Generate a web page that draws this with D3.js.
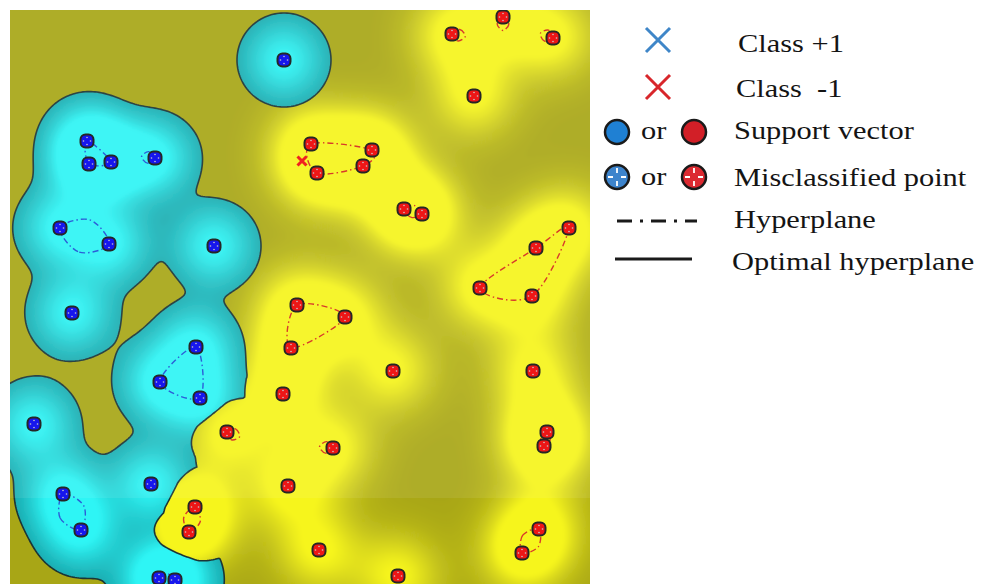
<!DOCTYPE html>
<html>
<head>
<meta charset="utf-8">
<script src="https://cdn.jsdelivr.net/npm/d3@7"></script>
<style>
body { margin: 0; background: #fff; }
text { font-family: "Liberation Serif", "Times New Roman", serif; fill: #141414; white-space: pre; }
</style>
</head>
<body>
<div id="chart"></div>
<script>
// Samples of class +1 (blue) in feature space
const classPos = [
  [27.4, 52.4], [7.7, 44.3], [7.9, 42.0], [10.1, 42.2], [14.5, 42.6],
  [5.0, 35.6], [9.9, 34.0], [20.4, 33.8], [6.2, 27.1], [18.6, 23.7],
  [15.0, 20.2], [19.0, 18.6], [2.4, 16.0], [14.1, 10.0], [5.3, 9.0],
  [7.1, 5.4], [14.9, 0.6], [16.5, 0.4]
];
// Samples of class -1 (red)
const classNeg = [
  [49.3, 56.7], [44.2, 55.0], [54.3, 54.6], [46.4, 48.8], [30.1, 44.0],
  [36.2, 43.4], [35.3, 41.8], [30.7, 41.1], [39.4, 37.5], [41.2, 37.0],
  [55.9, 35.6], [52.6, 33.6], [47.0, 29.6], [52.2, 28.8], [28.7, 27.9],
  [33.5, 26.7], [28.1, 23.6], [38.3, 21.3], [52.3, 21.3], [27.3, 19.0],
  [21.7, 15.2], [32.3, 13.6], [53.7, 15.2], [53.4, 13.8], [27.8, 9.8],
  [18.5, 7.7], [17.9, 5.2], [30.9, 3.4], [52.9, 5.5], [51.2, 3.1],
  [38.8, 0.8]
];
const crossNeg = [[29.2, 42.3]];

// hyperplane loops: groups of sample indices, and single-point stubs [index, direction deg]
const posPlanes = [[1, 2, 3], [5, 6], [9, 10, 11], [14, 15], [16, 17]];
const posStubs = [[4, 185]];
const negPlanes = [[4, 5, 6, 7], [8, 9], [10, 11, 12, 13], [14, 15, 16], [25, 26], [28, 29], [22, 23]];
const negStubs = [[1, 10], [0, 90], [2, 200], [20, 20], [21, 185]];

const legendLabels = ["Class +1", "Class  -1", "Support vector", "Misclassified point", "Hyperplane", "Optimal hyperplane"];

const W = 994, H = 584;
const plot = { left: 10, top: 10, right: 590, bottom: 584 };

const svg = d3.select("#chart").append("svg")
    .attr("width", W)
    .attr("height", H);

const x = d3.scaleLinear().domain([0, 58]).range([plot.left, plot.right]);
const y = d3.scaleLinear().domain([0, 57.4]).range([plot.bottom, plot.top]);

const P = classPos.map(d => [x(d[0]), y(d[1])]);
const N = classNeg.map(d => [x(d[0]), y(d[1])]);

// Decision fields on a grid (slightly larger than the plot)
const cell = 2, gx0 = -10, gy0 = -10, nx = 310, ny = 307;
const kSmooth = 11, radius = 47, margin = 3, sY = 30, sC = 26;
const F = new Float64Array(nx * ny);
const GY = new Float64Array(nx * ny);
const GC = new Float64Array(nx * ny);
for (let j = 0; j < ny; j++) {
  for (let i = 0; i < nx; i++) {
    const px = gx0 + (i + 0.5) * cell, py = gy0 + (j + 0.5) * cell;
    const db = P.map(p => Math.hypot(px - p[0], py - p[1]));
    const dn = N.map(p => Math.hypot(px - p[0], py - p[1]));
    const m = d3.min(db);
    const dsm = m - kSmooth * Math.log(d3.sum(db, d => Math.exp(-(d - m) / kSmooth)));
    const dr = d3.min(dn);
    const k = i + j * nx;
    // red samples repel the boundary only at short range
    F[k] = Math.min(radius - dsm, dr + Math.max(0, dr - 30) - margin - dsm);
    GY[k] = d3.sum(dn, d => Math.exp(-d * d / (2 * sY * sY)));
    GC[k] = d3.sum(db, d => Math.exp(-d * d / (2 * sC * sC)));
  }
}

const path = d3.geoPath(d3.geoIdentity().scale(cell).translate([gx0, gy0]));
const contours = d3.contours().size([nx, ny]);
const clamp01 = v => Math.max(0, Math.min(1, v));

const defs = svg.append("defs");
defs.append("clipPath").attr("id", "plotClip")
  .append("rect")
    .attr("x", plot.left).attr("y", plot.top)
    .attr("width", plot.right - plot.left).attr("height", plot.bottom - plot.top);
defs.append("filter").attr("id", "soft")
    .attr("x", "-5%").attr("y", "-5%").attr("width", "110%").attr("height", "110%")
  .append("feGaussianBlur").attr("stdDeviation", 2);

const region = contours.thresholds([0])(F)[0];
defs.append("clipPath").attr("id", "posClip")
  .append("path").attr("d", path(region));

const plotG = svg.append("g").attr("clip-path", "url(#plotClip)");

// yellow / olive background
const olive = "#a8a618", yellow = "#f7f61f";
const yScaleCol = d3.interpolateRgb(olive, yellow);
const yThr = [-1].concat(d3.range(0.03, 1.0, 0.03));
plotG.append("g").attr("filter", "url(#soft)")
  .selectAll("path")
  .data(contours.thresholds(yThr)(GY))
  .join("path")
    .attr("d", path)
    .attr("fill", d => yScaleCol(Math.pow(clamp01(d.value), 1.1)));

// cyan region
const teal = "#15939a", cyan = "#2ff6f6";
const cScaleCol = d3.interpolateRgb(teal, cyan);
const cThr = [-1].concat(d3.range(0.03, 1.0, 0.03));
plotG.append("g").attr("clip-path", "url(#posClip)")
  .append("g").attr("filter", "url(#soft)")
  .selectAll("path")
  .data(contours.thresholds(cThr)(GC))
  .join("path")
    .attr("d", path)
    .attr("fill", d => cScaleCol(Math.pow(clamp01(d.value), 0.8)));

// optimal hyperplane
plotG.append("path")
    .attr("d", path(region))
    .attr("fill", "none")
    .attr("stroke", "#1b3535")
    .attr("stroke-width", 1.6);

// faint overlay of the upper part (as in the reference)
plotG.append("rect")
    .attr("x", plot.left).attr("y", plot.top)
    .attr("width", plot.right - plot.left).attr("height", 498 - plot.top)
    .attr("fill", "#fff").attr("opacity", 0.08);

// hyperplane loops
const loopLine = d3.line().curve(d3.curveCardinalClosed.tension(0));
function loopPoints(pts) {
  if (pts.length === 2) {
    const [a, b] = pts;
    const mx = (a[0] + b[0]) / 2, my = (a[1] + b[1]) / 2;
    const dx = b[0] - a[0], dy = b[1] - a[1];
    const bulge = 0.33;
    return [a, [mx - dy * bulge, my + dx * bulge], b, [mx + dy * bulge, my - dx * bulge]];
  }
  const cx = d3.mean(pts, p => p[0]), cy = d3.mean(pts, p => p[1]);
  return pts.slice().sort((p, q) => Math.atan2(p[1] - cy, p[0] - cx) - Math.atan2(q[1] - cy, q[0] - cx));
}
function stubPoints(p, deg) {
  const r = 9, a = deg * Math.PI / 180;
  const pt = (ang, rr) => [p[0] + rr * Math.cos(ang), p[1] + rr * Math.sin(ang)];
  return [p, pt(a - 0.7, r), pt(a, r * 1.5), pt(a + 0.7, r)];
}
function drawPlanes(pts, groups, stubs, color) {
  const shapes = groups.map(g => loopPoints(g.map(i => pts[i])))
    .concat(stubs.map(s => stubPoints(pts[s[0]], s[1])));
  plotG.append("g").selectAll("path")
    .data(shapes)
    .join("path")
      .attr("d", loopLine)
      .attr("fill", "none")
      .attr("stroke", color)
      .attr("stroke-width", 1.4)
      .attr("stroke-dasharray", "6,3,1.5,3");
}
drawPlanes(P, posPlanes, posStubs, "#2c5ed8");
drawPlanes(N, negPlanes, negStubs, "#d83a2a");

// samples
function drawSamples(pts, fill) {
  const g = plotG.append("g").selectAll("g")
    .data(pts)
    .join("g")
      .attr("transform", d => `translate(${d[0]},${d[1]})`);
  g.append("rect")
      .attr("x", -6.5).attr("y", -6.5).attr("width", 13).attr("height", 13)
      .attr("rx", 5)
      .attr("fill", fill)
      .attr("stroke", "#262626")
      .attr("stroke-width", 2);
  g.selectAll("circle")
    .data([[0, -3.5], [3.5, 0], [0, 3.5], [-3.5, 0]])
    .join("circle")
      .attr("cx", d => d[0]).attr("cy", d => d[1])
      .attr("r", 0.8)
      .attr("fill", "#c8c8c8");
}
drawSamples(P, "#1616ee");
drawSamples(N, "#ee1616");

plotG.append("g").selectAll("path")
  .data(crossNeg)
  .join("path")
    .attr("d", d => {
      const cx = x(d[0]), cy = y(d[1]), s = 4.5;
      return `M${cx - s},${cy - s}L${cx + s},${cy + s}M${cx - s},${cy + s}L${cx + s},${cy - s}`;
    })
    .attr("stroke", "#f02020")
    .attr("stroke-width", 3)
    .attr("fill", "none");

// Legend
const legend = svg.append("g");
const rowsY = [52, 97, 139, 186, 228, 270];
const textX = [738, 736, 734, 734, 734, 732];
legend.selectAll("text.label")
  .data(legendLabels)
  .join("text")
    .attr("class", "label")
    .attr("transform", (d, i) => `translate(${textX[i]},${rowsY[i]}) scale(1.17,1)`)
    .attr("font-size", 26)
    .text(d => d);

function cross(cx, cy, color) {
  const s = 12;
  legend.append("path")
      .attr("d", `M${cx - s},${cy - s}L${cx + s},${cy + s}M${cx - s},${cy + s}L${cx + s},${cy - s}`)
      .attr("stroke", color)
      .attr("stroke-width", 3)
      .attr("fill", "none");
}
cross(658, 40, "#3f86c8");
cross(658, 87, "#d8262b");

function disc(cx, cy, fill, ticks) {
  legend.append("circle")
      .attr("cx", cx).attr("cy", cy).attr("r", 12)
      .attr("fill", fill)
      .attr("stroke", "#1a1a1a")
      .attr("stroke-width", 2.5);
  if (ticks) {
    legend.append("path")
        .attr("d", `M${cx},${cy - 9}V${cy - 4}M${cx},${cy + 4}V${cy + 9}M${cx - 9},${cy}H${cx - 4}M${cx + 4},${cy}H${cx + 9}`)
        .attr("stroke", "#fff")
        .attr("stroke-width", 1.8);
  }
}
disc(617, 132, "#1f80d3", false);
disc(694, 132, "#d21f27", false);
disc(617, 177, "#3d84cc", true);
disc(694, 177, "#dc2a31", true);
legend.selectAll("text.or")
  .data([139, 185])
  .join("text")
    .attr("class", "or")
    .attr("transform", d => `translate(641,${d}) scale(1.17,1)`)
    .attr("font-size", 26)
    .text("or");

legend.append("line")
    .attr("x1", 617).attr("x2", 697).attr("y1", 221).attr("y2", 221)
    .attr("stroke", "#1a1a1a").attr("stroke-width", 3)
    .attr("stroke-dasharray", "15,8,3,8");
legend.append("line")
    .attr("x1", 615).attr("x2", 692).attr("y1", 259).attr("y2", 259)
    .attr("stroke", "#1a1a1a").attr("stroke-width", 3);
</script>
</body>
</html>
